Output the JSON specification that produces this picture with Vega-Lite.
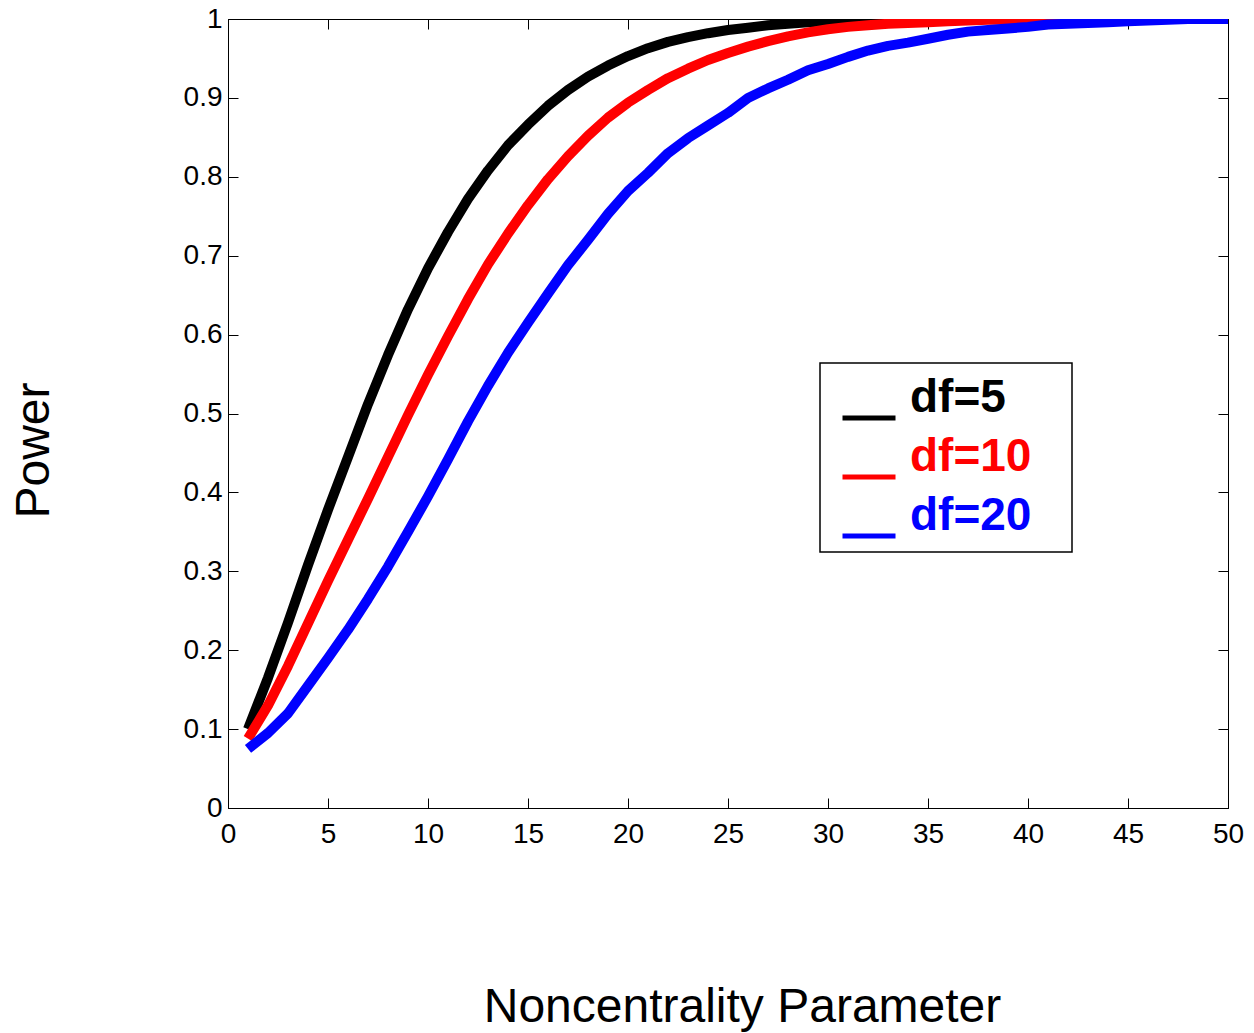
{
  "$schema": "https://vega.github.io/schema/vega-lite/v6.json",
  "width": 1000,
  "height": 789,
  "autosize": {"type": "none"},
  "padding": {"left": 228, "top": 19, "right": 26, "bottom": 225},
  "background": "white",
  "config": {
    "font": "Liberation Sans",
    "view": {"stroke": "black", "strokeWidth": 1}
  },
  "data": {
    "values": [
      {"x":1,"p":0.10,"s":"df=5"},{"x":2,"p":0.165,"s":"df=5"},{"x":3,"p":0.235,"s":"df=5"},{"x":4,"p":0.308,"s":"df=5"},{"x":5,"p":0.378,"s":"df=5"},
      {"x":6,"p":0.445,"s":"df=5"},{"x":7,"p":0.512,"s":"df=5"},{"x":8,"p":0.574,"s":"df=5"},{"x":9,"p":0.632,"s":"df=5"},{"x":10,"p":0.684,"s":"df=5"},
      {"x":11,"p":0.73,"s":"df=5"},{"x":12,"p":0.772,"s":"df=5"},{"x":13,"p":0.808,"s":"df=5"},{"x":14,"p":0.84,"s":"df=5"},{"x":15,"p":0.866,"s":"df=5"},
      {"x":16,"p":0.89,"s":"df=5"},{"x":17,"p":0.91,"s":"df=5"},{"x":18,"p":0.927,"s":"df=5"},{"x":19,"p":0.941,"s":"df=5"},{"x":20,"p":0.953,"s":"df=5"},
      {"x":21,"p":0.963,"s":"df=5"},{"x":22,"p":0.971,"s":"df=5"},{"x":23,"p":0.977,"s":"df=5"},{"x":24,"p":0.982,"s":"df=5"},{"x":25,"p":0.986,"s":"df=5"},
      {"x":26,"p":0.989,"s":"df=5"},{"x":27,"p":0.992,"s":"df=5"},{"x":28,"p":0.994,"s":"df=5"},{"x":29,"p":0.996,"s":"df=5"},{"x":30,"p":0.997,"s":"df=5"},
      {"x":31,"p":0.998,"s":"df=5"},{"x":32,"p":0.999,"s":"df=5"},{"x":33,"p":0.999,"s":"df=5"},{"x":34,"p":1,"s":"df=5"},{"x":35,"p":1,"s":"df=5"},
      {"x":36,"p":1,"s":"df=5"},{"x":37,"p":1,"s":"df=5"},{"x":38,"p":1,"s":"df=5"},{"x":39,"p":1,"s":"df=5"},{"x":40,"p":1,"s":"df=5"},
      {"x":41,"p":1,"s":"df=5"},{"x":42,"p":1,"s":"df=5"},{"x":43,"p":1,"s":"df=5"},{"x":44,"p":1,"s":"df=5"},{"x":45,"p":1,"s":"df=5"},
      {"x":46,"p":1,"s":"df=5"},{"x":47,"p":1,"s":"df=5"},{"x":48,"p":1,"s":"df=5"},{"x":49,"p":1,"s":"df=5"},{"x":50,"p":1,"s":"df=5"},

      {"x":1,"p":0.088,"s":"df=10"},{"x":2,"p":0.13,"s":"df=10"},{"x":3,"p":0.18,"s":"df=10"},{"x":4,"p":0.234,"s":"df=10"},{"x":5,"p":0.288,"s":"df=10"},
      {"x":6,"p":0.34,"s":"df=10"},{"x":7,"p":0.392,"s":"df=10"},{"x":8,"p":0.445,"s":"df=10"},{"x":9,"p":0.498,"s":"df=10"},{"x":10,"p":0.549,"s":"df=10"},
      {"x":11,"p":0.598,"s":"df=10"},{"x":12,"p":0.645,"s":"df=10"},{"x":13,"p":0.689,"s":"df=10"},{"x":14,"p":0.728,"s":"df=10"},{"x":15,"p":0.764,"s":"df=10"},
      {"x":16,"p":0.797,"s":"df=10"},{"x":17,"p":0.826,"s":"df=10"},{"x":18,"p":0.852,"s":"df=10"},{"x":19,"p":0.875,"s":"df=10"},{"x":20,"p":0.894,"s":"df=10"},
      {"x":21,"p":0.91,"s":"df=10"},{"x":22,"p":0.925,"s":"df=10"},{"x":23,"p":0.937,"s":"df=10"},{"x":24,"p":0.948,"s":"df=10"},{"x":25,"p":0.957,"s":"df=10"},
      {"x":26,"p":0.965,"s":"df=10"},{"x":27,"p":0.972,"s":"df=10"},{"x":28,"p":0.978,"s":"df=10"},{"x":29,"p":0.983,"s":"df=10"},{"x":30,"p":0.987,"s":"df=10"},
      {"x":31,"p":0.99,"s":"df=10"},{"x":32,"p":0.992,"s":"df=10"},{"x":33,"p":0.994,"s":"df=10"},{"x":34,"p":0.995,"s":"df=10"},{"x":35,"p":0.996,"s":"df=10"},
      {"x":36,"p":0.997,"s":"df=10"},{"x":37,"p":0.998,"s":"df=10"},{"x":38,"p":0.999,"s":"df=10"},{"x":39,"p":0.999,"s":"df=10"},{"x":40,"p":1,"s":"df=10"},
      {"x":41,"p":1,"s":"df=10"},{"x":42,"p":1,"s":"df=10"},{"x":43,"p":1,"s":"df=10"},{"x":44,"p":1,"s":"df=10"},{"x":45,"p":1,"s":"df=10"},
      {"x":46,"p":1,"s":"df=10"},{"x":47,"p":1,"s":"df=10"},{"x":48,"p":1,"s":"df=10"},{"x":49,"p":1,"s":"df=10"},{"x":50,"p":1,"s":"df=10"},

      {"x":1,"p":0.075,"s":"df=20"},{"x":2,"p":0.095,"s":"df=20"},{"x":3,"p":0.12,"s":"df=20"},{"x":4,"p":0.155,"s":"df=20"},{"x":5,"p":0.19,"s":"df=20"},
      {"x":6,"p":0.226,"s":"df=20"},{"x":7,"p":0.265,"s":"df=20"},{"x":8,"p":0.306,"s":"df=20"},{"x":9,"p":0.35,"s":"df=20"},{"x":10,"p":0.395,"s":"df=20"},
      {"x":11,"p":0.442,"s":"df=20"},{"x":12,"p":0.49,"s":"df=20"},{"x":13,"p":0.535,"s":"df=20"},{"x":14,"p":0.577,"s":"df=20"},{"x":15,"p":0.615,"s":"df=20"},
      {"x":16,"p":0.652,"s":"df=20"},{"x":17,"p":0.688,"s":"df=20"},{"x":18,"p":0.72,"s":"df=20"},{"x":19,"p":0.753,"s":"df=20"},{"x":20,"p":0.782,"s":"df=20"},
      {"x":21,"p":0.805,"s":"df=20"},{"x":22,"p":0.83,"s":"df=20"},{"x":23,"p":0.849,"s":"df=20"},{"x":24,"p":0.865,"s":"df=20"},{"x":25,"p":0.881,"s":"df=20"},
      {"x":26,"p":0.9,"s":"df=20"},{"x":27,"p":0.912,"s":"df=20"},{"x":28,"p":0.923,"s":"df=20"},{"x":29,"p":0.935,"s":"df=20"},{"x":30,"p":0.943,"s":"df=20"},
      {"x":31,"p":0.952,"s":"df=20"},{"x":32,"p":0.96,"s":"df=20"},{"x":33,"p":0.966,"s":"df=20"},{"x":34,"p":0.97,"s":"df=20"},{"x":35,"p":0.975,"s":"df=20"},
      {"x":36,"p":0.98,"s":"df=20"},{"x":37,"p":0.984,"s":"df=20"},{"x":38,"p":0.986,"s":"df=20"},{"x":39,"p":0.988,"s":"df=20"},{"x":40,"p":0.99,"s":"df=20"},
      {"x":41,"p":0.993,"s":"df=20"},{"x":42,"p":0.994,"s":"df=20"},{"x":43,"p":0.995,"s":"df=20"},{"x":44,"p":0.996,"s":"df=20"},{"x":45,"p":0.997,"s":"df=20"},
      {"x":46,"p":0.998,"s":"df=20"},{"x":47,"p":0.999,"s":"df=20"},{"x":48,"p":1,"s":"df=20"},{"x":49,"p":1,"s":"df=20"},{"x":50,"p":1,"s":"df=20"}
    ]
  },
  "layer": [
    {
      "mark": {"type": "line", "strokeWidth": 10, "clip": true, "strokeJoin": "round", "strokeCap": "butt"},
      "encoding": {
        "x": {
          "field": "x", "type": "quantitative",
          "scale": {"domain": [0, 50], "nice": false, "zero": false},
          "axis": {
            "orient": "bottom",
            "values": [0,5,10,15,20,25,30,35,40,45,50],
            "tickSize": -10, "tickColor": "black", "tickWidth": 1,
            "domainColor": "black", "domainWidth": 1,
            "grid": false,
            "labelFontSize": 28, "labelColor": "black", "labelPadding": 22, "labelFlush": false, "labelOverlap": false,
            "title": "Noncentrality Parameter", "titleFontSize": 48, "titleFontWeight": "normal", "titleColor": "black",
            "titlePadding": 135, "titleX": 514
          }
        },
        "y": {
          "field": "p", "type": "quantitative",
          "scale": {"domain": [0, 1], "nice": false},
          "axis": {
            "orient": "left",
            "values": [0,0.1,0.2,0.3,0.4,0.5,0.6,0.7,0.8,0.9,1],
            "format": "~g",
            "tickSize": -10, "tickColor": "black", "tickWidth": 1,
            "domainColor": "black", "domainWidth": 1,
            "grid": false,
            "labelFontSize": 28, "labelColor": "black", "labelPadding": 16, "labelFlush": false, "labelOverlap": false,
            "title": "Power", "titleFontSize": 48, "titleFontWeight": "normal", "titleColor": "black",
            "titlePadding": 125, "titleY": 431
          }
        },
        "color": {
          "field": "s", "type": "nominal",
          "scale": {"domain": ["df=5", "df=10", "df=20"], "range": ["#000000", "#ff0000", "#0000ff"]},
          "legend": {
            "orient": "none", "legendX": 592, "legendY": 344,
            "title": null,
            "symbolType": "stroke", "symbolSize": 2809, "symbolStrokeWidth": 5, "symbolOffset": 14,
            "labelFontSize": 46, "labelFontWeight": "bold", "labelOffset": 12,
            "padding": 6, "rowPadding": 0,
            "strokeColor": "black", "fillColor": "white",
            "encode": {
              "labels": {"update": {"fill": {"scale": "color", "field": "value"}, "text": {"signal": "datum.label + '\u2800'"}}},
              "symbols": {"update": {"y": {"value": 49}}},
              "legend": {"update": {"strokeWidth": {"value": 1.5}}}
            }
          }
        }
      }
    },
    {
      "mark": {"type": "line", "opacity": 0},
      "encoding": {
        "x": {
          "field": "x", "type": "quantitative",
          "axis": {"orient": "top", "values": [0,5,10,15,20,25,30,35,40,45,50], "tickSize": -10, "tickColor": "black", "labels": false, "domain": false, "grid": false, "title": null}
        },
        "y": {
          "field": "p", "type": "quantitative",
          "axis": {"orient": "right", "values": [0,0.1,0.2,0.3,0.4,0.5,0.6,0.7,0.8,0.9,1], "tickSize": -10, "tickColor": "black", "labels": false, "domain": false, "grid": false, "title": null}
        }
      }
    }
  ],
  "resolve": {"axis": {"x": "independent", "y": "independent"}}
}
